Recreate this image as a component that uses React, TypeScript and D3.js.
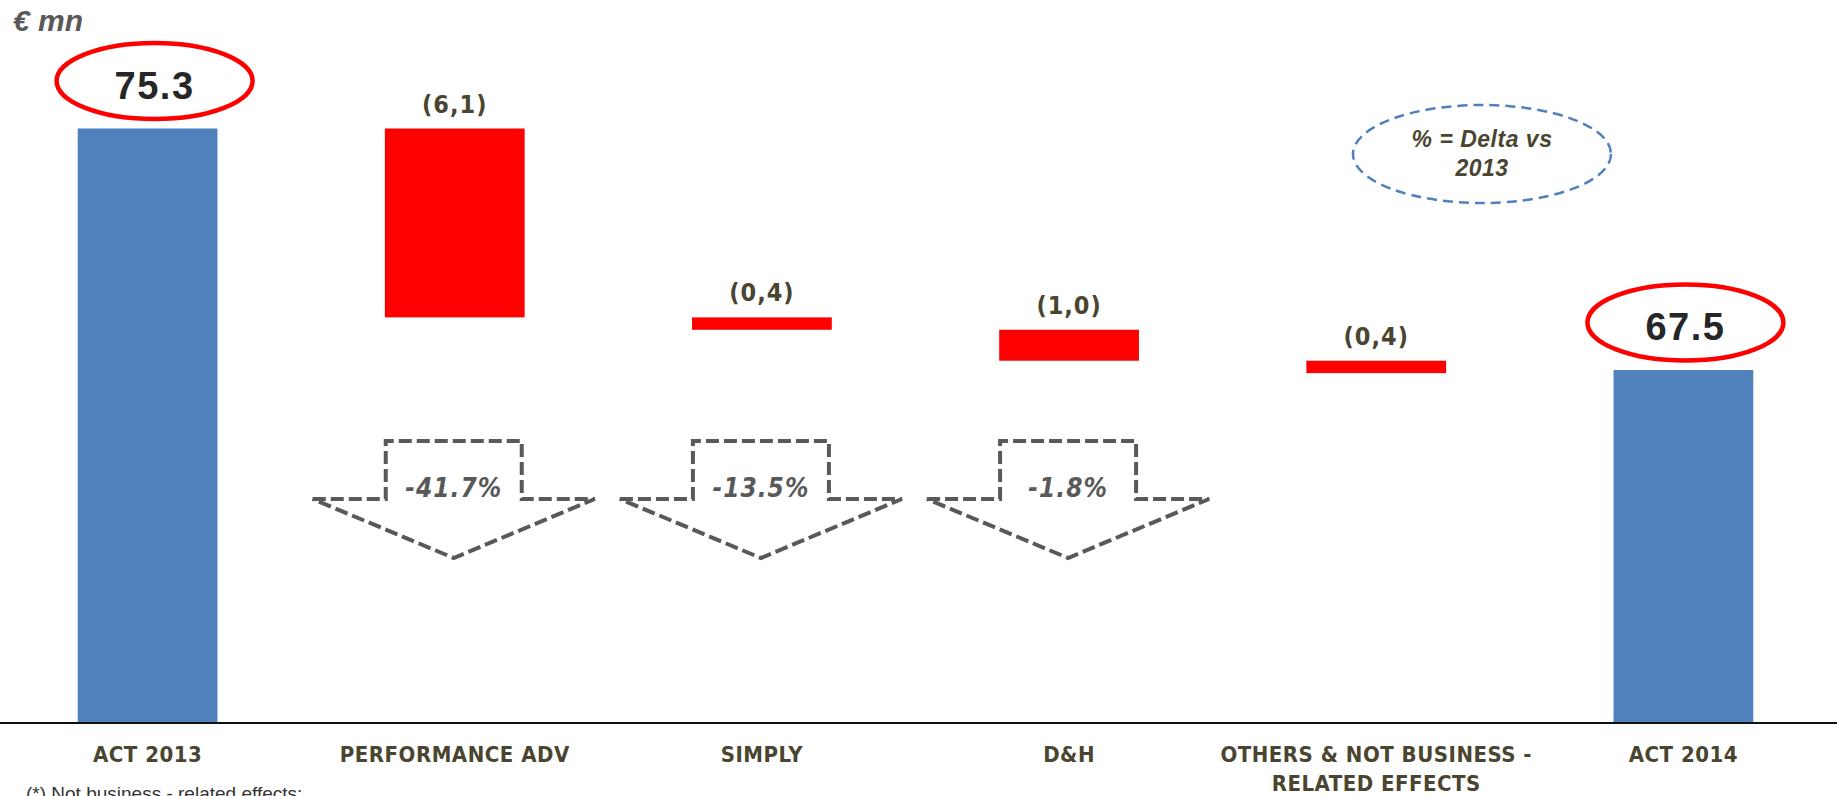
import React from "react";
import * as d3 from "d3";

const categories = ["ACT 2013", "PERFORMANCE ADV", "SIMPLY", "D&H", "OTHERS & NOT BUSINESS - RELATED EFFECTS", "ACT 2014"];
const categoryLines = [["ACT 2013"], ["PERFORMANCE ADV"], ["SIMPLY"], ["D&H"], ["OTHERS & NOT BUSINESS -", "RELATED EFFECTS"], ["ACT 2014"]];
const startValue = 75.3;
const endValue = 67.5;
const deltas = [-6.1, -0.4, -1.0, -0.4];
const deltaLabels = ["(6,1)", "(0,4)", "(1,0)", "(0,4)"];
const totalLabels = ["75.3", "67.5"];
const pctLabels = ["-41.7%", "-13.5%", "-1.8%"];

// layout (not data)
const W = 1837, H = 796;
const ellipseOffsets = [7, 2];

const FONT = "'DejaVu Sans Condensed', 'DejaVu Sans', sans-serif";
const OLIVE = "#4a4530";
const GRAY = "#595959";

export default function App() {
  const x = d3.scaleBand<string>().domain(categories).range([-6, 1837]).paddingInner(0.545).paddingOuter(0.2725);
  const y = d3.scaleLinear().domain([56.1, 75.3]).range([723, 128.5]);
  const bw = x.bandwidth();
  const cx = (c: string) => (x(c) as number) + bw / 2;

  const steps: { from: number; to: number; cat: string; label: string }[] = [];
  let run = startValue;
  deltas.forEach((d, i) => {
    const from = run;
    run = +(run + d).toFixed(2);
    steps.push({ from, to: run, cat: categories[i + 1], label: deltaLabels[i] });
  });

  const totals = [
    { cat: categories[0], v: startValue, label: totalLabels[0], off: ellipseOffsets[0] },
    { cat: categories[5], v: endValue, label: totalLabels[1], off: ellipseOffsets[1] },
  ];

  return (
    <svg width={W} height={H} style={{ position: "absolute", left: 0, top: 0, background: "#fff" }} fontFamily={FONT}>
      <rect x={0} y={0} width={W} height={H} fill="#fff" />
      <text x={13} y={31} fontSize={30} fontWeight="bold" fontStyle="italic" fill={GRAY} fontFamily="'Liberation Sans', sans-serif">€ mn</text>

      {totals.map((t) => (
        <g key={t.cat}>
          <rect x={x(t.cat)} y={y(t.v)} width={bw} height={y(56.1) - y(t.v)} fill="#4f81bd" />
          <ellipse cx={cx(t.cat) + t.off} cy={y(t.v) - 47.5} rx={98} ry={38} fill="none" stroke="#ff0000" strokeWidth={4.5} />
          <text x={cx(t.cat) + t.off} y={y(t.v) - 30} textAnchor="middle" fontSize={38} fontWeight="bold" fill="#262626" letterSpacing={1.5} fontFamily="'Liberation Sans', sans-serif">{t.label}</text>
        </g>
      ))}

      {steps.map((s) => (
        <g key={s.cat}>
          <rect x={x(s.cat)} y={y(s.from)} width={bw} height={y(s.to) - y(s.from)} fill="#ff0000" />
          <text x={cx(s.cat)} y={y(s.from) - 16} textAnchor="middle" fontSize={25} fontWeight="bold" fill={OLIVE} letterSpacing={1}>{s.label}</text>
        </g>
      ))}

      {pctLabels.map((p, i) => {
        const c = cx(categories[i + 1]) - 1;
        const sh = 68, hh = 141;
        const top = 441, shoulder = 499, tip = 558;
        const path = `M${c - hh},${shoulder} L${c - sh},${shoulder} L${c - sh},${top} L${c + sh},${top} L${c + sh},${shoulder} L${c + hh},${shoulder} L${c},${tip} Z`;
        return (
          <g key={p}>
            <path d={path} fill="none" stroke={GRAY} strokeWidth={4} strokeDasharray="13,5" />
            <text x={c} y={497} textAnchor="middle" fontSize={26} fontWeight="bold" fontStyle="italic" fill={GRAY} letterSpacing={1}>{p}</text>
          </g>
        );
      })}

      <ellipse cx={1482} cy={154} rx={129} ry={49} fill="none" stroke="#4f81bd" strokeWidth={2.5} strokeDasharray="10,6" />
      <text x={1482} y={147} textAnchor="middle" fontSize={23} fontWeight="bold" fontStyle="italic" fill={OLIVE} letterSpacing={0.5} fontFamily="'Liberation Sans', sans-serif">% = Delta vs</text>
      <text x={1482} y={176} textAnchor="middle" fontSize={23} fontWeight="bold" fontStyle="italic" fill={OLIVE} letterSpacing={0.5} fontFamily="'Liberation Sans', sans-serif">2013</text>

      <line x1={0} x2={W} y1={723} y2={723} stroke="#111" strokeWidth={2} />

      {categories.map((c, i) => (
        <text key={c} x={cx(c)} textAnchor="middle" fontSize={22} fontWeight="bold" fill={OLIVE} letterSpacing={0.5}>
          {categoryLines[i].map((ln, j) => (
            <tspan key={j} x={cx(c)} y={762 + j * 29}>{ln}</tspan>
          ))}
        </text>
      ))}

      <text x={26} y={800} fontSize={19} fill="#333" fontFamily="'Liberation Sans', sans-serif">(*) Not business - related effects:</text>
    </svg>
  );
}
